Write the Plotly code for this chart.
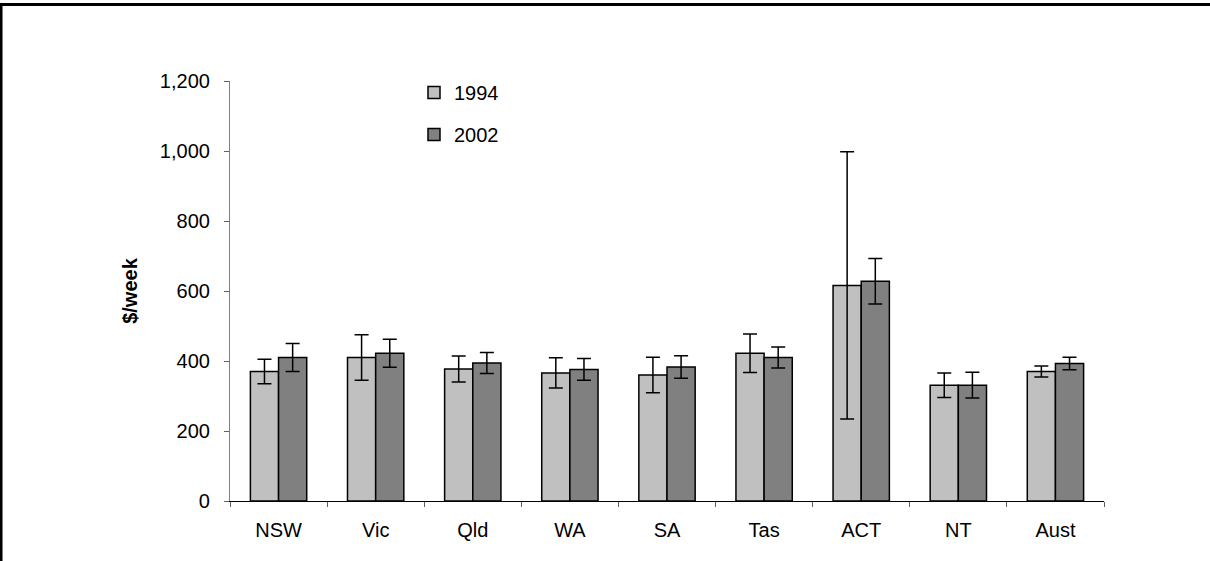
import plotly.graph_objects as go

categories = ["NSW", "Vic", "Qld", "WA", "SA", "Tas", "ACT", "NT", "Aust"]
values_1994 = [370, 410, 377, 366, 360, 422, 616, 331, 370]
err_1994 = [35, 65, 37, 43, 51, 55, 382, 35, 16]
values_2002 = [410, 422, 394, 376, 383, 410, 628, 331, 393]
err_2002 = [40, 40, 30, 31, 32, 30, 65, 37, 18]
y_ticks = [0, 200, 400, 600, 800, 1000, 1200]

W, H = 1210, 561
L, R, T, B = 230, 106, 81, 60
pw, ph = W - L - R, H - T - B

font = "Liberation Sans, Arial, sans-serif"
fs = 20

fig = go.Figure()
fig.add_trace(go.Bar(
    x=categories, y=values_1994, name="1994", legendgroup="a",
    marker=dict(color="#C0C0C0", line=dict(color="black", width=1.5)),
    error_y=dict(type="data", array=err_1994, color="black", thickness=1.5, width=7),
))
fig.add_trace(go.Bar(
    x=categories, y=values_2002, name="2002", legendgroup="b",
    marker=dict(color="#808080", line=dict(color="black", width=1.5)),
    error_y=dict(type="data", array=err_2002, color="black", thickness=1.5, width=7),
))

fig.update_layout(
    width=W, height=H,
    margin=dict(l=L, r=R, t=T, b=B, pad=0),
    paper_bgcolor="white", plot_bgcolor="white",
    barmode="group", bargap=0.42, bargroupgap=0,
    font=dict(family=font, size=fs, color="black"),
    showlegend=True,
    legend=dict(x=(414 - L) / pw, y=(H - B - 73) / ph, xanchor="left", yanchor="top",
                bgcolor="rgba(0,0,0,0)", tracegroupgap=13, itemwidth=30,
                font=dict(family=font, size=fs)),
    xaxis=dict(showline=True, linecolor="black", linewidth=1, ticks="outside",
               tickson="boundaries", ticklen=5, tickcolor="#606060",
               showgrid=False, tickfont=dict(size=fs), ticklabelstandoff=11),
    yaxis=dict(range=[0, 1200], tickvals=y_ticks, tickformat=",", showline=True,
               linecolor="#808080", linewidth=1.2, ticks="outside", ticklen=5,
               tickcolor="#606060", showgrid=False, zeroline=False,
               tickfont=dict(size=fs), ticklabelstandoff=10,
               title=dict(text="<b>$/week</b>", font=dict(size=fs), standoff=16)),
    shapes=[dict(type="rect", xref="paper", yref="paper",
                 x0=(1 - L) / pw, x1=(W + 20 - L) / pw,
                 y0=(H - B - (H + 20)) / ph, y1=(H - B - 4.5) / ph,
                 line=dict(color="black", width=3), fillcolor="rgba(0,0,0,0)")],
)

fig.write_html("out.html",
               config={"displayModeBar": False},
               post_script="document.body.style.margin='0';document.body.style.overflow='hidden';")
